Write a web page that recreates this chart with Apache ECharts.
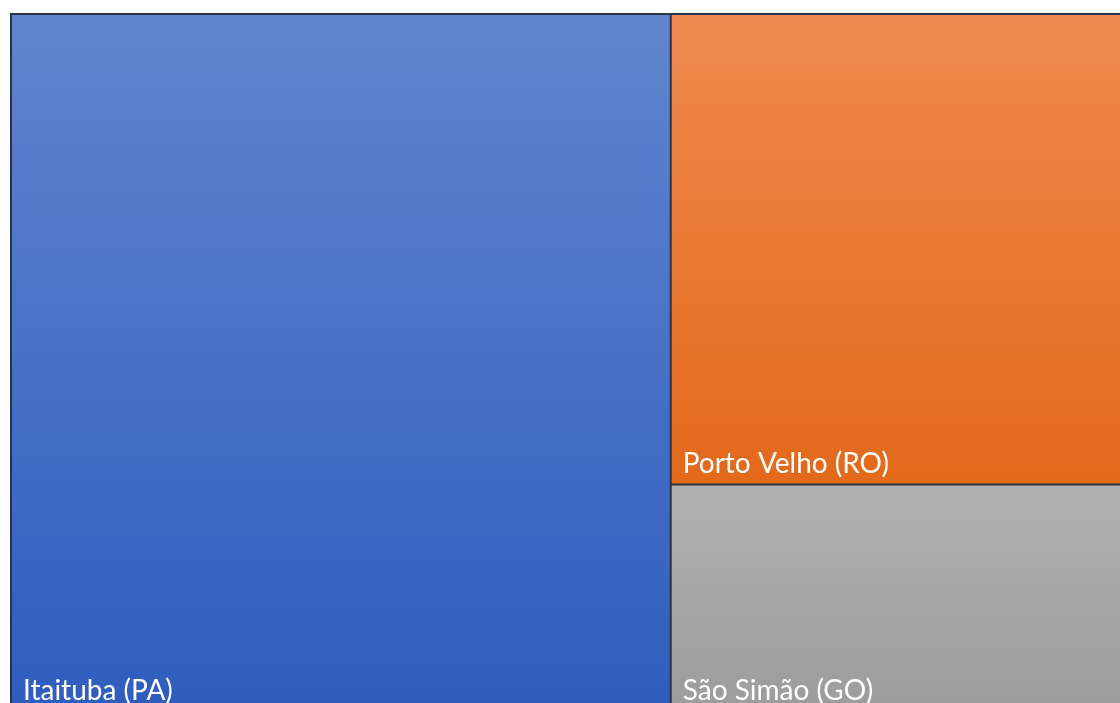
<!DOCTYPE html>
<html>
<head>
<meta charset="utf-8">
<script src="https://cdn.jsdelivr.net/npm/echarts@6/dist/echarts.min.js"></script>
<style>
  html, body { margin: 0; padding: 0; background: #ffffff; }
  #chart { width: 1120px; height: 703px; }
</style>
</head>
<body>
<div id="chart"></div>
<script>
// Municipalities and their relative sizes
const categories = ['Itaituba (PA)', 'Porto Velho (RO)', 'São Simão (GO)'];
const values = [463, 213, 103];
// Vertical gradient stops per tile (top, bottom)
const gradientTops = ['#6185CD', '#EF8A50', '#B1B1B1'];
const gradientBottoms = ['#2E5DBE', '#E3691A', '#9C9C9C'];

const data = categories.map((name, i) => ({
  name: name,
  value: values[i],
  itemStyle: {
    color: new echarts.graphic.LinearGradient(0, 0, 0, 1, [
      { offset: 0, color: gradientTops[i] },
      { offset: 1, color: gradientBottoms[i] }
    ])
  }
}));

const chart = echarts.init(document.getElementById('chart'), null, { renderer: 'canvas' });
chart.setOption({
  animation: false,
  series: [{
    type: 'treemap',
    left: 10,
    top: 13,
    width: 1112,
    height: 700,
    roam: false,
    nodeClick: false,
    breadcrumb: { show: false },
    sort: 'desc',
    itemStyle: {
      borderColor: '#2B3445',
      borderWidth: 1,
      gapWidth: 0
    },
    label: {
      show: true,
      position: 'insideBottomLeft',
      color: '#ffffff',
      fontFamily: 'Lato',
      fontSize: 28,
      padding: [0, 0, 6, 11],
      formatter: '{b}'
    },
    levels: [{
      itemStyle: { borderColor: '#2B3445', borderWidth: 1, gapWidth: 0 }
    }],
    data: data
  }]
});
</script>
</body>
</html>
